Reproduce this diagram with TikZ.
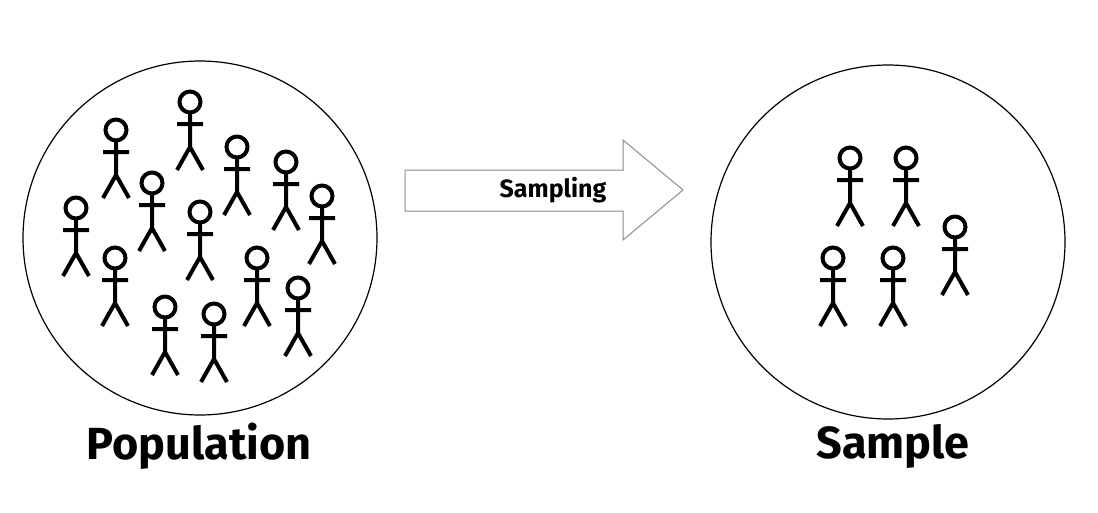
\documentclass[tikz,border=0pt]{standalone}
\usepackage{fontspec}
\setmainfont{Fira Sans}
\begin{document}
\begin{tikzpicture}[x=1pt,y=-1pt,
  fig/.style={line width=4pt},
  big/.style={font=\fontsize{45}{48}\selectfont\bfseries},
  small/.style={font=\fontsize{25}{27}\selectfont\bfseries}]
\useasboundingbox (0,0) rectangle (1098,512);
\newcommand{\stick}[2]{%
  \draw[fig] (#1,#2) circle (10.5);
  \draw[fig] (#1,#2+10.5) -- (#1,#2+45) (#1-13,#2+22) -- (#1+13,#2+22)
    (#1-13,#2+68) -- (#1,#2+45) -- (#1+13,#2+68);}
\node[draw,circle,line width=1.2pt,minimum size=354pt,inner sep=0] (pop) at (200,238) {};
\node[draw,circle,line width=1.2pt,minimum size=354pt,inner sep=0] (samp) at (888,242) {};
\foreach \a/\b in {116/130,190/102,237/147,286/162,322/196,76/208,152/183,200/212,115/258,257/258,298/288,165/307,214/314}{\stick{\a}{\b}}
\foreach \a/\b in {850/158,906/158,955/227,833/258,893/258}{\stick{\a}{\b}}
\draw[line width=1pt,draw=black!45,fill=white] (405,170) -- (623,170) -- (623,140) -- (683,190) -- (623,240) -- (623,211) -- (405,211) -- cycle;
\node[small] (lab) at (553,190) {Sampling};
\node[big] (pl) at (199,446) {Population};
\node[big] (sl) at (893,446) {Sample};
\end{tikzpicture}
\end{document}
